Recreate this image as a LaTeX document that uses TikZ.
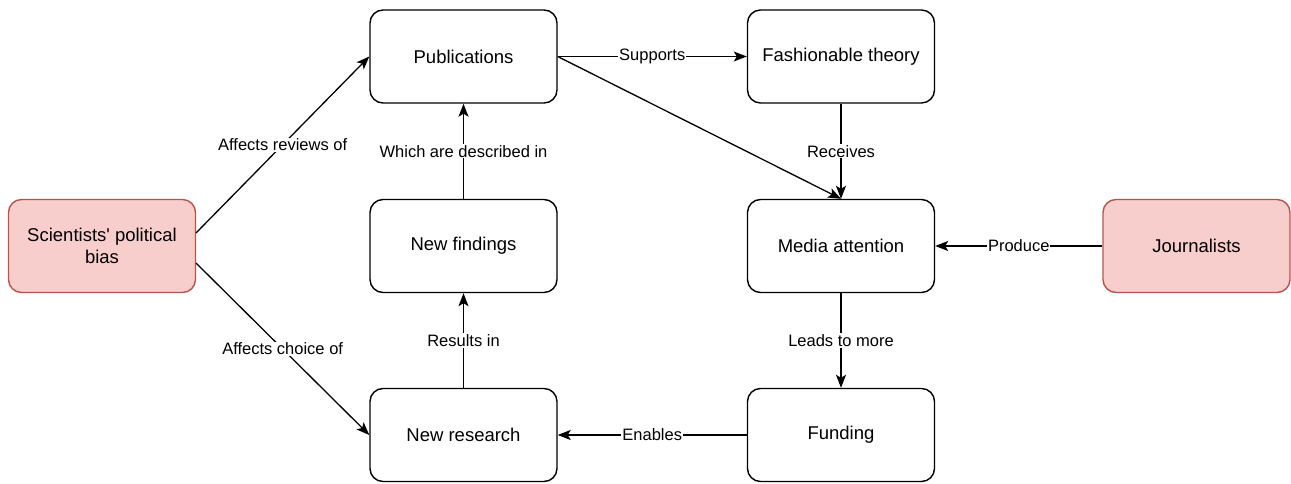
\documentclass[tikz,border=0pt]{standalone}
\usepackage{fontspec}
\setmainfont[Ligatures=NoCommon]{Liberation Sans}
\usetikzlibrary{arrows.meta}
\definecolor{pinkfill}{HTML}{F8CECC}
\definecolor{pinkline}{HTML}{B85450}
\begin{document}
\begin{tikzpicture}[x=1pt,y=-1pt,
  box/.style={draw=black,line width=1.4pt,rounded corners=13pt,minimum width=187pt,minimum height=93pt,align=center,font=\fontsize{18.5}{21.5}\selectfont,fill=white},
  pinkbox/.style={box,fill=pinkfill,draw=pinkline},
  conn/.style={draw=black,line width=1.3pt,-{Stealth[length=13pt,width=10pt,inset=3pt]}},
  lbl/.style={fill=white,inner sep=1pt,font=\fontsize{16.5}{19}\selectfont}]
\useasboundingbox (0,0) rectangle (1291,484);
\node[box] (pub) at (463.5,56.5) {Publications};
\node[box] (fash) at (841,56.5) {Fashionable theory};
\node[pinkbox] (bias) at (102,246) {Scientists\textquotesingle\ political\\bias};
\node[box] (find) at (463.5,246) {New findings};
\node[box] (media) at (841,246) {Media attention};
\node[pinkbox] (jour) at (1196.5,246) {Journalists};
\node[box] (res) at (463.5,435) {New research};
\node[box] (fund) at (841,435) {Funding};
\coordinate (b1) at (196,233);
\coordinate (b2) at (196,263);
\draw[conn] (b1) -- node[lbl,pos=0.5] {Affects reviews of} (pub.west);
\draw[conn] (b2) -- node[lbl,pos=0.5] {Affects choice of} (res.west);
\draw[conn] (pub.east) -- node[lbl] {Supports} (fash.west);
\draw[conn] (pub.east) -- (media.north);
\draw[conn] (fash.south) -- node[lbl] {Receives} (media.north);
\draw[conn] (jour.west) -- node[lbl] {Produce} (media.east);
\draw[conn] (media.south) -- node[lbl] {Leads to more} (fund.north);
\draw[conn] (fund.west) -- node[lbl] {Enables} (res.east);
\draw[conn] (res.north) -- node[lbl] {Results in} (find.south);
\draw[conn] (find.north) -- node[lbl] {Which are described in} (pub.south);
\end{tikzpicture}
\end{document}
